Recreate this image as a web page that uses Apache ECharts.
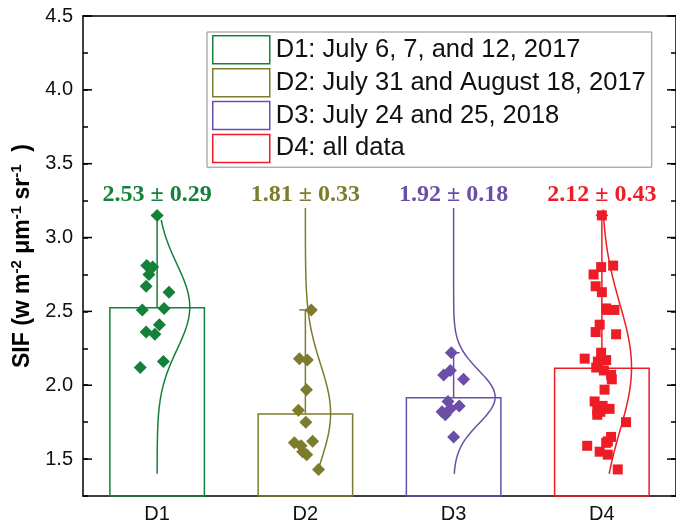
<!DOCTYPE html>
<html>
<head>
<meta charset="utf-8">
<script src="https://cdn.jsdelivr.net/npm/echarts@6/dist/echarts.min.js"></script>
<style>
html,body{margin:0;padding:0;background:#fff;}
#chart{width:676px;height:528px;}
</style>
</head>
<body>
<div id="chart"></div>
<script>
// ---------- data ----------
const categories = ['D1', 'D2', 'D3', 'D4'];
const legendNames = [
  'D1: July 6, 7, and 12, 2017',
  'D2: July 31 and August 18, 2017',
  'D3: July 24 and 25, 2018',
  'D4: all data'
];
const means = [2.53, 1.81, 1.92, 2.12];
const sds = [0.29, 0.33, 0.18, 0.43];
const maxima = [3.15, 2.51, 2.22, 3.15];
const curveLow = [1.40, 1.43, 1.40, 1.40];
const curveHigh = [3.12, 3.20, 3.20, 3.19];
const curvePeak = [0.22, 0.17, 0.28, 0.20];

const d1Values = [3.15, 2.81, 2.80, 2.75, 2.67, 2.63, 2.52, 2.51, 2.41, 2.36, 2.345, 2.16, 2.12];
const d1Jitter = [0.00, -0.07, -0.03, -0.055, -0.074, 0.08, 0.047, -0.10, 0.015, -0.074, -0.015, 0.042, -0.114];
const d2Values = [2.51, 2.18, 2.17, 1.97, 1.83, 1.75, 1.62, 1.61, 1.59, 1.55, 1.53, 1.43];
const d2Jitter = [0.04, -0.04, 0.013, 0.007, -0.047, 0.003, 0.049, -0.074, -0.029, -0.018, 0.009, 0.089];
const d3Values = [2.22, 2.10, 2.07, 2.04, 1.89, 1.86, 1.84, 1.82, 1.80, 1.65];
const d3Jitter = [-0.015, -0.022, -0.067, 0.067, -0.038, 0.038, -0.022, -0.078, -0.056, 0.0];
const d4Values = [3.15, 2.81, 2.80, 2.75, 2.67, 2.63, 2.52, 2.51, 2.51, 2.41, 2.36, 2.345,
  2.22, 2.18, 2.17, 2.16, 2.12, 2.10, 2.07, 2.04, 1.97, 1.89, 1.86, 1.84, 1.83, 1.82, 1.80,
  1.75, 1.65, 1.62, 1.61, 1.59, 1.55, 1.53, 1.43];
const d4Jitter = [0.0, 0.076, -0.005, -0.056, -0.042, 0.0, 0.029, 0.085, 0.035, -0.015, -0.042, 0.096,
  -0.005, -0.116, 0.029, -0.027, -0.038, 0.013, 0.062, 0.067, 0.018, -0.049, 0.005, 0.052, -0.031, -0.01, -0.031,
  0.163, 0.062, 0.04, 0.029, -0.099, -0.015, 0.04, 0.107];

const yTickValues = [1.5, 2.0, 2.5, 3.0, 3.5, 4.0, 4.5];

// ---------- style ----------
const colors = ['#15803a', '#7d7b2c', '#6a4ea8', '#ee1c25'];
const symbols = ['diamond', 'diamond', 'diamond', 'rect'];
const symbolSizes = [13, 13, 13, 10];
const pointSets = [[d1Values, d1Jitter], [d2Values, d2Jitter], [d3Values, d3Jitter], [d4Values, d4Jitter]];
const labelLevel = 3.29;

const chart = echarts.init(document.getElementById('chart'), null, {renderer: 'canvas'});

const series = [];
categories.forEach((c, i) => {
  series.push({
    name: legendNames[i],
    type: 'bar',
    xAxisIndex: 0,
    yAxisIndex: 0,
    barWidth: 96,
    barGap: '-100%',
    clip: true,
    z: 2,
    data: categories.map((_, j) => j === i ? means[i] : '-'),
    itemStyle: {color: 'rgba(255,255,255,0)', borderColor: colors[i], borderWidth: 1.5},
    emphasis: {disabled: true},
    silent: true
  });
});

series.push({
  name: 'decor',
  type: 'custom',
  xAxisIndex: 2,
  yAxisIndex: 0,
  z: 3,
  silent: true,
  data: categories.map((_, i) => [i, means[i]]),
  renderItem: function (params, api) {
    const i = api.value(0);
    const c = colors[i];
    const base = api.coord([i, means[i]]);
    const top = api.coord([i, maxima[i]]);
    const unit = api.size([1, 0])[0];
    const pts = [];
    const n = 120;
    for (let k = 0; k <= n; k++) {
      const v = curveLow[i] + (curveHigh[i] - curveLow[i]) * k / n;
      const p = api.coord([i, v]);
      const g = Math.exp(-Math.pow(v - means[i], 2) / (2 * sds[i] * sds[i]));
      pts.push([p[0] + curvePeak[i] * unit * g, p[1]]);
    }
    const lab = api.coord([i, labelLevel]);
    return {
      type: 'group',
      children: [
        {type: 'line', shape: {x1: base[0], y1: base[1], x2: top[0], y2: top[1]}, style: {stroke: c, lineWidth: 1.5}},
        {type: 'line', shape: {x1: top[0] - 6, y1: top[1], x2: top[0] + 6, y2: top[1]}, style: {stroke: c, lineWidth: 1.5}},
        {type: 'polyline', shape: {points: pts}, style: {stroke: c, lineWidth: 1.5, fill: null}},
        {type: 'text', x: lab[0], y: lab[1], style: {
          text: means[i].toFixed(2) + ' \u00b1 ' + sds[i].toFixed(2),
          fill: c, font: 'bold 24px "Liberation Serif", "Times New Roman", serif',
          align: 'center', verticalAlign: 'middle'
        }}
      ]
    };
  }
});

pointSets.forEach((set, i) => {
  series.push({
    name: 'pts' + i,
    type: 'scatter',
    xAxisIndex: 2,
    yAxisIndex: 0,
    z: 5,
    symbol: symbols[i],
    symbolSize: symbolSizes[i],
    itemStyle: {color: colors[i], opacity: 1},
    silent: true,
    data: set[0].map((v, k) => [i + set[1][k], v])
  });
});

// major (long) ticks on left & right
series.push({
  name: 'majorTicks',
  type: 'custom',
  xAxisIndex: 2,
  yAxisIndex: 0,
  z: 6,
  silent: true,
  data: yTickValues.map(v => [-0.5, v]),
  renderItem: function (params, api) {
    const v = api.value(1);
    const l = api.coord([-0.5, v]);
    const r = api.coord([3.5, v]);
    return {
      type: 'group',
      children: [
        {type: 'line', shape: {x1: l[0], y1: l[1], x2: l[0] + 9, y2: l[1]}, style: {stroke: '#000', lineWidth: 1.5}},
        {type: 'line', shape: {x1: r[0] - 9, y1: r[1], x2: r[0], y2: r[1]}, style: {stroke: '#000', lineWidth: 1.5}}
      ]
    };
  }
});

const axisLineStyle = {onZero: false, lineStyle: {color: '#000', width: 1.5}};

const option = {
  animation: false,
  backgroundColor: '#fff',
  grid: {left: 83, right: -3, top: 16, bottom: 32, containLabel: false},
  legend: {
    data: legendNames.map((n, i) => ({
      name: n,
      icon: 'rect',
      itemStyle: {color: 'rgba(255,255,255,0)', borderColor: colors[i], borderWidth: 1.5}
    })),
    orient: 'vertical',
    left: 207,
    top: 32,
    padding: [3, 6, 4, 5],
    itemWidth: 57,
    itemHeight: 28,
    itemGap: 3.4,
    borderColor: '#8c8c8c',
    borderWidth: 1,
    backgroundColor: '#fff',
    selectedMode: false,
    textStyle: {fontSize: 25.5, fontFamily: '"Liberation Sans", Arial, sans-serif', color: '#111', padding: [0, 0, 0, 1]}
  },
  xAxis: [
    {
      type: 'category', data: categories, position: 'bottom', gridIndex: 0,
      axisLine: axisLineStyle,
      axisTick: {inside: true, length: 8, alignWithLabel: true, lineStyle: {color: '#000', width: 1.5}},
      axisLabel: {fontSize: 20, fontFamily: '"Liberation Sans", Arial, sans-serif', color: '#111', margin: 8},
      splitLine: {show: false}
    },
    {
      type: 'category', data: categories, position: 'top', gridIndex: 0,
      axisLine: axisLineStyle,
      axisTick: {inside: true, length: 8, alignWithLabel: true, lineStyle: {color: '#000', width: 1.5}},
      axisLabel: {show: false},
      splitLine: {show: false}
    },
    {
      type: 'value', min: -0.5, max: 3.5, show: false, gridIndex: 0,
      axisLine: {show: false, onZero: false}
    }
  ],
  yAxis: [
    {
      type: 'value', min: 1.25, max: 4.5, interval: 0.25, position: 'left',
      name: '{b|SIF (w m}{s|-2}{b| \u03bcm}{s|-1}{b| sr}{s|-1}{b|  )}',
      nameLocation: 'middle',
      nameGap: 45,
      nameTextStyle: {
        rich: {
          b: {fontSize: 23, fontWeight: 'bold', fontFamily: '"Liberation Sans", Arial, sans-serif', color: '#000', lineHeight: 27},
          s: {fontSize: 15, fontWeight: 'bold', fontFamily: '"Liberation Sans", Arial, sans-serif', color: '#000', lineHeight: 15, verticalAlign: 'top'}
        }
      },
      axisLine: {show: true, onZero: false, lineStyle: {color: '#000', width: 1.5}},
      axisTick: {show: true, inside: true, length: 5, lineStyle: {color: '#000', width: 1.5}},
      axisLabel: {
        fontSize: 20, fontFamily: '"Liberation Sans", Arial, sans-serif', color: '#111', margin: 10,
        formatter: function (v) {
          const hit = yTickValues.find(t => Math.abs(t - v) < 1e-6);
          return hit !== undefined ? hit.toFixed(1) : '';
        }
      },
      splitLine: {show: false}
    },
    {
      type: 'value', min: 1.25, max: 4.5, interval: 0.25, position: 'right',
      axisLine: {show: true, onZero: false, lineStyle: {color: '#000', width: 1.5}},
      axisTick: {show: true, inside: true, length: 5, lineStyle: {color: '#000', width: 1.5}},
      axisLabel: {show: false},
      splitLine: {show: false}
    }
  ],
  series: series
};

chart.setOption(option);
</script>
</body>
</html>
